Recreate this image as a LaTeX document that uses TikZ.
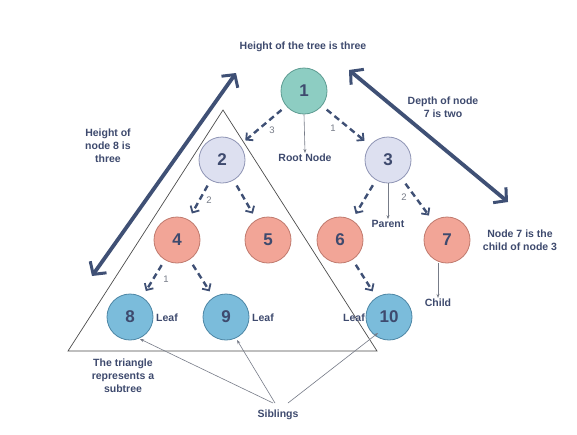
\documentclass[tikz,border=0pt]{standalone}
\usepackage{fontspec}
\setmainfont{Liberation Sans}
\usetikzlibrary{arrows.meta}
\definecolor{txt}{HTML}{3E4A6E}
\definecolor{edge}{HTML}{3F5075}
\definecolor{thin}{HTML}{777C88}
\definecolor{tealf}{HTML}{8DCDC2}
\definecolor{teald}{HTML}{5E9C92}
\definecolor{lavf}{HTML}{DDE0F0}
\definecolor{lavd}{HTML}{8F95B5}
\definecolor{salf}{HTML}{F2A597}
\definecolor{sald}{HTML}{C07A6E}
\definecolor{bluef}{HTML}{7BBCDB}
\definecolor{blued}{HTML}{4D86A5}
\tikzset{
  tnode/.style={circle, minimum size=46pt, inner sep=0pt, line width=0.8pt, text=txt, font=\fontsize{17}{17}\selectfont\bfseries},
  rootn/.style={tnode, fill=tealf, draw=teald},
  midn/.style={tnode, fill=lavf, draw=lavd},
  saln/.style={tnode, fill=salf, draw=sald},
  leafn/.style={tnode, fill=bluef, draw=blued},
  lbl/.style={text=txt, font=\fontsize{10.5}{13}\selectfont\bfseries, align=center, inner sep=1pt},
  num/.style={text=thin, font=\fontsize{9.5}{11}\selectfont, inner sep=1pt},
  dedge/.style={draw=edge, line width=2.4pt, dash pattern=on 6pt off 4pt, -{Straight Barb[length=5pt,width=10pt,line width=1.8pt]}, shorten >=7pt, shorten <=6pt},
  thinarrow/.style={draw=thin, line width=0.6pt, -{Stealth[length=4pt,width=3pt]}},
  bigarrow/.style={draw=edge, line width=3.8pt, {Straight Barb[length=9pt,width=20pt,line width=3pt]}-{Straight Barb[length=9pt,width=20pt,line width=3pt]}}
}
\begin{document}
\begin{tikzpicture}[x=1pt,y=-1pt]
\useasboundingbox[fill=white] (0,0) rectangle (577,434);
% triangle
\coordinate (tA) at (223,110);
\coordinate (tB) at (68,351);
\coordinate (tC) at (377,351);
\draw[line width=0.7pt, draw=black!70] (tA) -- (tB) -- (tC) -- cycle;
% nodes
\node[rootn] (n1) at (304,91) {1};
\node[midn] (n2) at (222,160) {2};
\node[midn] (n3) at (388,160) {3};
\node[saln] (n4) at (177,240) {4};
\node[saln] (n5) at (268,240) {5};
\node[saln] (n6) at (340,240) {6};
\node[saln] (n7) at (447,240) {7};
\node[leafn] (n8) at (130,317) {8};
\node[leafn] (n9) at (226,317) {9};
\node[leafn] (n10) at (389,317) {10};
% dashed edges
\draw[dedge] (n1) -- (n2);
\draw[dedge] (n1) -- (n3);
\draw[dedge] (n2) -- (n4);
\draw[dedge] (n2) -- (n5);
\draw[dedge] (n3) -- (n6);
\draw[dedge] (n3) -- (n7);
\draw[dedge] (n4) -- (n8);
\draw[dedge] (n4) -- (n9);
\draw[dedge] (n6) -- (n10);
% edge numbers
\node[num] (w13) at (272,130) {3};
\node[num] (w11) at (333,128) {1};
\node[num] (w24) at (209,200) {2};
\node[num] (w37) at (404,197) {2};
\node[num] (w48) at (166,279) {1};
% labels
\node[lbl] (ttl) at (303,47) {Height of the tree is three};
\node[lbl] (root) at (305,158) {Root Node};
\draw[thinarrow] (n1.south) -- (root.north);
\node[lbl] (par) at (388,224) {Parent};
\draw[thinarrow] (n3.south) -- (par.north);
\node[lbl] (chi) at (438,303) {Child};
\draw[thinarrow] (n7.south -| chi.north) -- (chi.north);
\node[lbl] (ch7) at (520,240) {Node 7 is the\\child of node 3};
\node[lbl] (dep) at (443,107) {Depth of node\\7 is two};
\node[lbl] (h8) at (108,146) {Height of\\node 8 is\\three};
\node[lbl, anchor=west] (lf8) at (155,318) {Leaf};
\node[lbl, anchor=west] (lf9) at (251,318) {Leaf};
\node[lbl, anchor=east] (lf10) at (366,318) {Leaf};
\node[lbl] (tri) at (123,376) {The triangle\\represents a\\subtree};
\node[lbl] (sib) at (278,415) {Siblings};
\coordinate (s8) at (140,339);
\coordinate (s9) at (237,340);
\coordinate (s10) at (378,333);
\draw[thinarrow] (273,403) -- (s8);
\draw[thinarrow] (275,403) -- (s9);
\draw[thinarrow] (288,403) -- (s10);
% big arrows
\coordinate (b1a) at (92,276);
\coordinate (b1b) at (236,73);
\coordinate (b2a) at (349,70);
\coordinate (b2b) at (508,202);
\draw[bigarrow] (b1a) -- (b1b);
\draw[bigarrow] (b2a) -- (b2b);
\end{tikzpicture}
\end{document}
